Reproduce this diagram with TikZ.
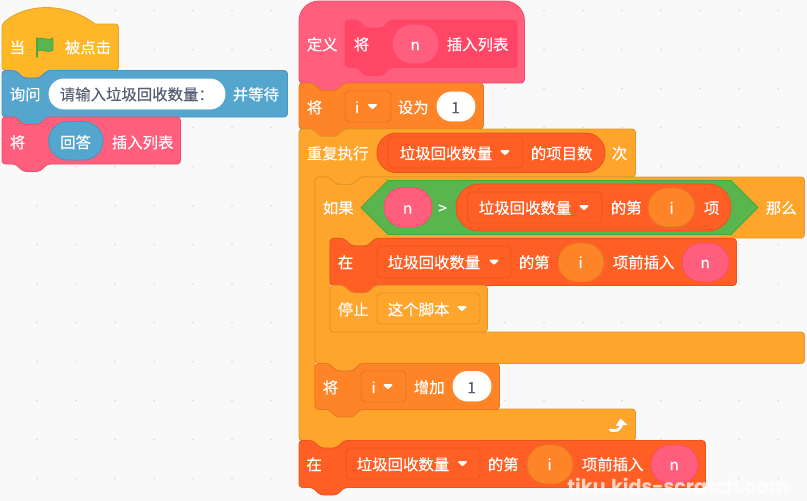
\documentclass[tikz,border=0pt]{standalone}
\usepackage{fontspec}
\setmainfont[FakeBold=0.25]{Noto Sans CJK SC}
\definecolor{bgc}{HTML}{F9F9F9}
\definecolor{dotc}{HTML}{DEDEDE}
\definecolor{hatf}{HTML}{FFB627}\definecolor{hats}{HTML}{E0A52E}
\definecolor{blue}{HTML}{55A6CF}\definecolor{blues}{HTML}{4A93BC}
\definecolor{pink}{HTML}{FF5F7D}\definecolor{pinks}{HTML}{F74D6B}
\definecolor{pinkd}{HTML}{FF4666}
\definecolor{varf}{HTML}{FF8427}\definecolor{vars}{HTML}{E07A22}
\definecolor{loopf}{HTML}{FFA52B}\definecolor{loops}{HTML}{E09628}
\definecolor{listf}{HTML}{FF5F24}\definecolor{lists}{HTML}{E8551E}
\definecolor{opf}{HTML}{59B64F}\definecolor{ops}{HTML}{4AA544}
\definecolor{ink}{HTML}{575E75}
\tikzset{
  x=1pt,y=-1pt,
  hatblock/.style={fill=hatf,draw=hats},
  askblock/.style={fill=blue,draw=blues},
  pinkblock/.style={fill=pink,draw=pinks},
  innerblock/.style={fill=pinkd,draw=pinkd},
  varblock/.style={fill=varf,draw=vars},
  loopblock/.style={fill=loopf,draw=loops},
  listblock/.style={fill=listf,draw=lists},
  opblock/.style={fill=opf,draw=ops},
  whitepill/.style={fill=white,draw=white},
  bluepill/.style={fill=blue,draw=blues},
  pinkpill/.style={fill=pink,draw=pinks},
  varpill/.style={fill=varf,draw=vars},
  listpill/.style={fill=listf,draw=lists},
  varmenu/.style={fill=varf,draw=vars},
  listmenu/.style={fill=listf,draw=lists},
  loopmenu/.style={fill=loopf,draw=loops},
  lbl/.style={text=white,inner sep=0pt,font=\fontsize{15.4}{16}\selectfont},
  inklbl/.style={lbl,text=ink},
}
\newcount\tn
\newcommand\tw[4][lbl]{\global\advance\tn by 1 \node[#1,anchor=base west] (t\the\tn) at (#2-0.6,#3+6.2) {#4};}
\newcommand\tc[4][lbl]{\global\advance\tn by 1 \node[#1,anchor=base] (t\the\tn) at (#2-0.4,#3+6.2) {#4};}
% stack block: style, x, y, w, h
\newcommand\stackblk[5]{\draw[#1,shift={(#2,#3)},rounded corners=3.5]
  (0,12) -- (0,0) -- (14,0) -- (21,7.5) -- (38,7.5) -- (45,0) -- (#4,0) -- (#4,#5)
  -- (45,#5) -- (38,#5+7.5) -- (21,#5+7.5) -- (14,#5) -- (0,#5) -- cycle;}
\newcommand\pill[6][]{\draw[#6,rounded corners=#1] (#2,#3) rectangle (#4,#5);}
\newcommand\menu[6]{\draw[#1,rounded corners=4] (#2,#3) rectangle (#4,#5);
  \draw[white,fill=white,line width=1.6pt,line join=round] (#6-3.6,#3/2+#5/2-1.6) -- (#6+3.6,#3/2+#5/2-1.6) -- (#6,#3/2+#5/2+1.8) -- cycle;}
\begin{document}
\begin{tikzpicture}[line width=.9pt]
\useasboundingbox (0,0) rectangle (807,501);
\fill[bgc] (0,0) rectangle (807,501);
\foreach \i in {0,...,19}\foreach \j in {0,...,12}\fill[dotc] (37+39*\i,10.7+39*\j) circle (1);

% left script
\draw[hatblock,shift={(2,24)},rounded corners=3.5]
  (0,12) -- (0,0) [sharp corners] .. controls (25,-21.5) and (65,-21.5) .. (93,0) [rounded corners=3.5] -- (116.5,0) -- (116.5,46.5)
  -- (45,46.5) -- (38,54) -- (21,54) -- (14,46.5) -- (0,46.5) -- cycle;
\stackblk{askblock}{2}{70.5}{285.5}{46.5}
\stackblk{pinkblock}{2}{117}{178.5}{47}
% flag
\draw[fill=opf,draw=ops,line join=round] (37,39) .. controls (42,36) and (47,42) .. (53,38) -- (53,50) .. controls (47,54) and (42,48) .. (37,51) -- cycle;
\draw[ops,line width=1.4pt,line cap=round] (37,38) -- (37,57);
\tc{17.8}{47}{当}
\tw{65}{47}{被点击}
\tw{10}{94}{询问}
\pill[15]{49}{79}{225}{109}{whitepill}
\tw[inklbl]{60}{94}{请输入垃圾回收数量：}
\tw{233}{94}{并等待}
\tw{10}{142}{将}
\pill[19.5]{48.5}{121.5}{103}{160}{bluepill}
\tc{76}{142}{回答}
\tw{112}{142}{插入列表}

% define block
\draw[pinkblock,rounded corners=3.5]
  (299,60) [rounded corners=20] -- (299,1) -- (524.5,1) -- (524.5,40) [rounded corners=3.5] -- (524.5,83)
  -- (344,83) -- (337,90.5) -- (320,90.5) -- (313,83) -- (299,83) -- cycle;
\draw[innerblock,rounded corners=3.5]
  (345,30) -- (345,20) -- (358,20) -- (365,28) -- (383,28) -- (390,20) -- (517,20) -- (517,67.5)
  -- (390,67.5) -- (383,75.5) -- (365,75.5) -- (358,67.5) -- (345,67.5) -- cycle;
\tw{307}{44}{定义}
\tw{354}{44}{将}
\pill[19]{393}{25}{438}{63}{fill=pink,draw=pink}
\tc{415.5}{44}{n}
\tw{447}{44}{插入列表}

% set i
\stackblk{varblock}{299}{83}{184.5}{46}
\tw{307}{107}{将}
\menu{varmenu}{345}{91}{391}{122}{372.5}
\tc{357.5}{107}{i}
\tw{398}{107}{设为}
\pill[14.5]{437}{92}{475}{121}{whitepill}
\tc[inklbl]{456}{107}{1}

% repeat
\draw[loopblock,shift={(299,129)},rounded corners=3.5]
  (0,12) -- (0,0) -- (14,0) -- (21,7.5) -- (38,7.5) -- (45,0) -- (336.5,0) -- (336.5,48)
  -- (61,48) -- (54,55.5) -- (37,55.5) -- (30,48) -- (16,48) -- (16,280) -- (336.5,280) -- (336.5,312)
  -- (45,312) -- (38,319.5) -- (21,319.5) -- (14,312) -- (0,312) -- cycle;
\tw{307}{153}{重复执行}
\pill[19.5]{377}{133}{605}{172.5}{listpill}
\menu{listmenu}{388}{137}{523}{168}{505}
\tw{400}{153}{垃圾回收数量}
\tw{531}{153}{的项目数}
\tw{612}{153}{次}
% loop arrow
\draw[loops,line width=2.8pt,line cap=round] (610,430.8) .. controls (616,433) and (621.5,431) .. (621.5,424);
\draw[white,line width=2.8pt,line cap=round] (610,430) .. controls (616,432.2) and (621.5,430) .. (621.5,423);
\fill[white,rounded corners=.6] (615.5,426) -- (620.5,418.5) -- (627.5,425) -- cycle;

% if
\draw[loopblock,shift={(315,177)},rounded corners=3.5]
  (0,12) -- (0,0) -- (14,0) -- (21,7.5) -- (38,7.5) -- (45,0) -- (489.5,0) -- (489.5,61)
  -- (60,61) -- (53,68.5) -- (36,68.5) -- (29,61) -- (15,61) -- (15,155) -- (489.5,155) -- (489.5,186.5)
  -- (45,186.5) -- (38,194) -- (21,194) -- (14,186.5) -- (0,186.5) -- cycle;
\tw{323}{207.5}{如果}
\draw[opblock,line join=round] (361,207.5) -- (388,180.5) -- (731,180.5) -- (758,207.5) -- (731,234.5) -- (388,234.5) -- cycle;
\pill[19.5]{384}{187.5}{432}{227}{pinkpill}
\tc{408}{207.5}{n}
\tc{443}{207.5}{>}
\pill[23]{456}{184}{731}{231}{listpill}
\menu{listmenu}{467.5}{192}{602}{223}{584}
\tw{479}{207.5}{垃圾回收数量}
\tw{611}{207.5}{的第}
\pill[19.5]{648}{188}{695}{227}{varpill}
\tc{672}{207.5}{i}
\tw{704}{207.5}{项}
\tw{766}{207.5}{那么}

% insert 1
\stackblk{listblock}{330}{238.5}{406.5}{47}
\tc{346}{262}{在}
\menu{listmenu}{377}{246}{511}{278}{494}
\tw{388}{262}{垃圾回收数量}
\tw{519}{262}{的第}
\pill[19.5]{558}{243}{604}{282}{varpill}
\tc{581}{262}{i}
\tw{613}{262}{项前插入}
\pill[19.5]{682}{243}{729}{282}{pinkpill}
\tc{705.5}{262}{n}

% stop
\draw[loopblock,shift={(330,285.5)},rounded corners=3.5]
  (0,12) -- (0,0) -- (14,0) -- (21,7.5) -- (38,7.5) -- (45,0) -- (157.5,0) -- (157.5,46.5) -- (0,46.5) -- cycle;
\tw{338}{309}{停止}
\menu{loopmenu}{377}{293}{480}{324}{462}
\tw{388}{309}{这个脚本}

% change i
\stackblk{varblock}{315}{363.5}{184.5}{46}
\tw{323}{387}{将}
\menu{varmenu}{361}{371}{406}{402}{388}
\tc{374}{387}{i}
\tw{414}{387}{增加}
\pill[14.5]{453}{371.5}{491}{401}{whitepill}
\tc[inklbl]{472}{387}{1}

% insert 2
\stackblk{listblock}{299}{440.5}{406.5}{47}
\tc{314.5}{464}{在}
\menu{listmenu}{346}{448}{480}{479}{462.5}
\tw{357}{464}{垃圾回收数量}
\tw{488}{464}{的第}
\pill[19.5]{527}{445}{573}{484}{varpill}
\tc{550}{464}{i}
\tw{582}{464}{项前插入}
\pill[19.5]{651}{445}{698}{484}{pinkpill}
\tc{674.5}{464}{n}

% watermark
\node[inner sep=0pt,anchor=base west,text=white,text opacity=.72,font=\fontspec{Poppins}\bfseries\fontsize{19.2}{22}\selectfont] (mark) at (567,493) {tiku.kids-scratch.com};
\end{tikzpicture}
\end{document}
